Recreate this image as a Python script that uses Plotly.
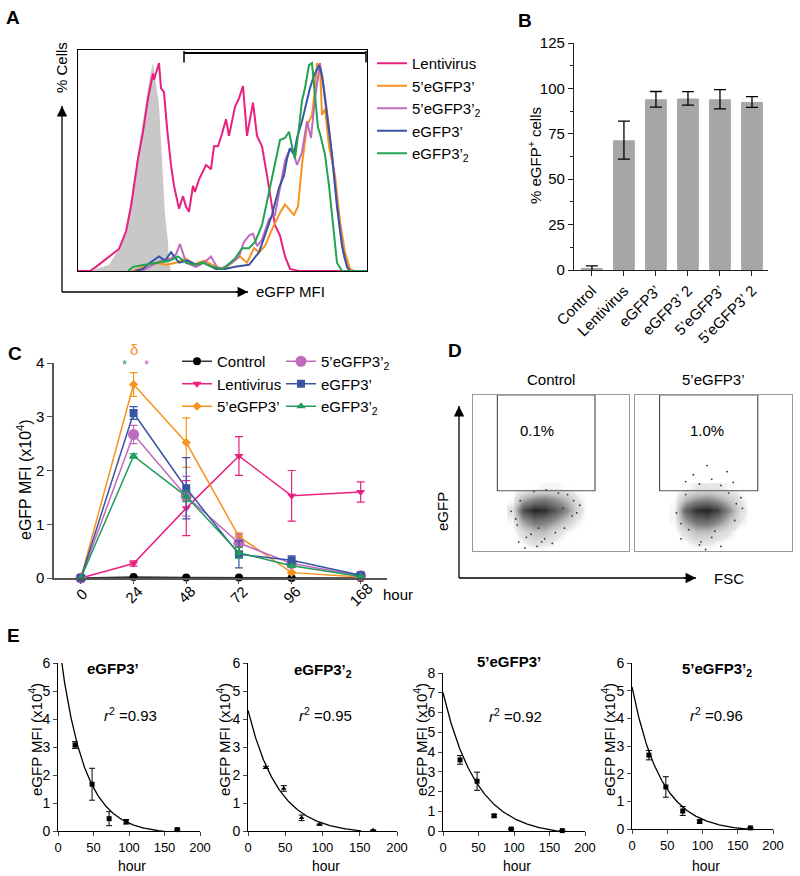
import numpy as np
import plotly.graph_objects as go

W, H = 800, 876
FONT = "Arial, 'Liberation Sans', Helvetica, sans-serif"

PINK, ORANGE, PURPLE, BLUE, GREEN = "#e8207f", "#f7931e", "#bf6bbd", "#3a54a4", "#21a34f"
C_GREEN = "#1f9b5a"
GREY_FILL, BAR_GREY = "#c8c8c8", "#a6a6a6"

# ---------------- Panel A: histograms (% of max vs relative log channel) ----------------
ctrl_hist_x = [0, 14, 18, 31, 41, 48, 53, 58, 63, 68, 72, 75, 78, 81, 83, 85, 87, 90, 91, 93, 289]
ctrl_hist_y = [0, 0, 1, 3, 10.6, 20, 35, 51, 67, 83, 94, 100, 91, 80, 62, 43, 27, 14, 4, 0, 0]
lenti_hist_x = [0, 12, 18, 31, 41, 48, 53, 60, 65, 70, 75, 76, 81, 83, 86, 89, 93, 96, 101, 105,
                108, 111, 115, 117, 121, 128, 133, 136, 140, 144, 148, 151, 154, 157, 161, 165, 169,
                175, 179, 184, 189, 194, 197, 202, 207, 212, 221, 289]
lenti_hist_y = [0, 0, 2, 7, 10.6, 19, 31, 54, 67, 83, 95, 92, 100, 88, 86, 69, 51, 41, 30, 36,
                31, 28.5, 41, 38, 44, 51, 49, 60, 60, 66, 73, 65, 72, 79, 83, 89, 65,
                81, 65, 60, 46, 31, 22, 17, 7, 1, 0, 0]
f5_hist_x = [54, 61, 70, 78, 88, 98, 108, 116, 126, 138, 146, 154, 162, 169, 176, 181, 187, 194, 202,
             207, 211, 216, 220, 224, 229, 234, 237, 239, 242, 244, 247, 251, 257, 262, 267, 272, 276, 289]
f5_hist_y = [0, 1, 3, 4, 3, 4, 6, 3, 5, 2, 1, 4, 7, 4, 11, 9, 12, 20, 28,
             32, 30, 27, 31, 51, 70, 75, 88, 100, 98, 75, 78, 60, 46, 24, 9, 1, 0, 0]
f52_hist_x = [62, 68, 75, 83, 93, 98, 102, 106, 108, 118, 126, 133, 140, 147, 154, 161, 166, 171, 175, 179,
              184, 191, 197, 202, 207, 212, 216, 219, 224, 229, 233, 237, 242, 246, 251, 256, 261, 266, 271, 289]
f52_hist_y = [0, 1, 3, 5, 6, 8, 13, 7, 4, 2, 4, 7, 1, 2, 4, 7, 14, 17, 18, 12,
              15, 25, 27, 40, 53, 59, 56, 51, 57, 72, 64, 83, 100, 88, 69, 46, 24, 7, 0, 0]
e3_hist_x = [57, 65, 72, 81, 87, 93, 101, 110, 118, 125, 138, 147, 157, 171, 181, 187, 194, 201, 206, 209,
             212, 216, 219, 224, 229, 232, 236, 241, 244, 249, 254, 259, 264, 269, 272, 289]
e3_hist_y = [0, 1, 4, 7, 5, 9, 4, 5, 3, 4, 1, 1, 2, 3, 9, 17, 27, 40, 46, 54,
             59, 56, 64, 72, 83, 88, 94, 99, 94, 75, 56, 31, 12, 2, 0, 0]
e32_hist_x = [50, 55, 67, 82, 92, 100, 108, 117, 125, 134, 145, 157, 164, 171, 177, 184, 191, 197, 202,
              207, 211, 214, 217, 221, 224, 227, 231, 234, 237, 240, 242, 245, 247, 251, 256, 259, 264, 289]
e32_hist_y = [0, 2, 3, 4, 5, 7, 4, 3, 4, 2, 1, 6, 11, 11, 14, 22, 38, 53, 63,
              64, 67, 60, 54, 69, 82, 88, 99, 100, 85, 69, 66, 59, 56, 41, 17, 4, 0, 0]
gate_range = [106, 288]

# ---------------- Panel B ----------------
b_cats = ["Control", "Lentivirus", "eGFP3’", "eGFP3’ 2", "5’eGFP3’", "5’eGFP3’ 2"]
b_vals = [1, 71.5, 94, 94.5, 94, 92.5]
b_err = [1.3, 10.5, 4.3, 3.7, 5.3, 3]

# ---------------- Panel C ----------------
hours = [0, 24, 48, 72, 96, 168]
hour_labels = ["0", "24", "48", "72", "96", "168"]
ctrl_mfi = [0, 0.02, 0.01, 0.01, 0.0, 0.0]
ctrl_err = [0, 0, 0, 0, 0, 0]
lenti_mfi = [0, 0.27, 1.3, 2.27, 1.53, 1.6]
lenti_err = [0, 0.05, 0.51, 0.36, 0.47, 0.19]
f5_mfi = [0, 3.6, 2.52, 0.77, 0.1, 0.02]
f5_err = [0, 0.22, 0.46, 0.07, 0.02, 0]
f52_mfi = [0, 2.67, 1.52, 0.65, 0.27, 0.04]
f52_err = [0, 0.17, 0.37, 0.16, 0.05, 0]
e3_mfi = [0, 3.07, 1.67, 0.44, 0.33, 0.05]
e3_err = [0, 0.12, 0.57, 0.25, 0.08, 0.02]
e32_mfi = [0, 2.27, 1.52, 0.47, 0.23, 0.03]
e32_err = [0, 0.04, 0.1, 0.1, 0.02, 0]

# ---------------- Panel D (density of events, FSC vs eGFP, 0-1023 scale) ----------------
dens_x = [260, 330, 400, 470, 540, 610, 680, 750]
dens_y = [0, 60, 130, 200, 270, 340, 410]
ctrl_density = [
    [0, 0, 0, 0, 0, 0, 0, 0],
    [0, 0.05, 0.12, 0.1, 0.05, 0, 0, 0],
    [0, 0.15, 0.3, 0.3, 0.15, 0.05, 0, 0],
    [0.05, 0.45, 0.65, 0.6, 0.45, 0.25, 0.08, 0],
    [0.1, 0.8, 1.0, 0.95, 0.75, 0.5, 0.2, 0],
    [0.02, 0.35, 0.5, 0.55, 0.45, 0.3, 0.1, 0],
    [0, 0, 0.02, 0.05, 0.05, 0.02, 0, 0],
]
f5_density = [
    [0, 0, 0, 0, 0, 0, 0, 0],
    [0, 0.03, 0.1, 0.1, 0.05, 0.02, 0, 0],
    [0, 0.15, 0.3, 0.3, 0.2, 0.1, 0, 0],
    [0.05, 0.45, 0.65, 0.7, 0.55, 0.3, 0.1, 0],
    [0.05, 0.7, 0.95, 1.0, 0.85, 0.5, 0.15, 0],
    [0.02, 0.3, 0.45, 0.5, 0.4, 0.25, 0.08, 0],
    [0, 0.02, 0.08, 0.08, 0.08, 0.04, 0.02, 0],
]
ctrl_sparse_fsc = [300, 340, 420, 470, 380, 520, 600, 650, 700, 660, 290, 250, 560, 480, 430, 350,
                   620, 540, 310, 450, 680, 400, 280, 590]
ctrl_sparse_gfp = [60, 20, 30, 80, 110, 50, 150, 230, 300, 330, 170, 260, 380, 400, 150, 90,
                   370, 120, 330, 60, 250, 390, 210, 280]
f5_sparse_fsc = [420, 500, 560, 330, 640, 470, 380, 600, 300, 420, 500, 350, 650, 700, 690, 270, 560, 460,
                 610, 330, 520, 300, 660, 430]
f5_sparse_gfp = [440, 470, 430, 455, 450, 560, 500, 520, 80, 40, 90, 140, 200, 280, 350, 250, 30, 10,
                 380, 370, 130, 180, 310, 60]
gate_fsc = [160, 800]
gate_gfp = [395, 1023]
d_titles = ["Control", "5’eGFP3’"]
d_pct = ["0.1%", "1.0%"]

# ---------------- Panel E (fits) ----------------
e_names = ["eGFP3’", "eGFP3’<sub>2</sub>", "5’eGFP3’", "5’eGFP3’<sub>2</sub>"]
e_vals = [e3_mfi, e32_mfi, f5_mfi, f52_mfi]
e_errs = [e3_err, e32_err, f5_err, f52_err]
e_symbols = ["square", "triangle-up", "square", "square"]
fit_A = [7.1, 4.41, 7.25, 5.24]
fit_k = [0.0293, 0.0246, 0.021, 0.0246]
fit_C = [-0.1, -0.1, -0.25, -0.1]
fit_end = [150, 152, 170, 165]
r2 = [0.93, 0.95, 0.92, 0.96]
e_ymax = [6, 6, 8, 6]


def xd(a, b):
    return [a / W, b / W]


def yd(top, bottom):
    return [1 - bottom / H, 1 - top / H]


def px(x):
    return x / W


def py(y):
    return 1 - y / H


fig = go.Figure()
ann = []
shapes = []


def txt(text, x, y, size=15, xanchor="center", yanchor="middle", angle=0, color="black", xref="paper"):
    ann.append(dict(text=text, x=px(x) if xref == "paper" else x, y=py(y), xref=xref, yref="paper",
                    showarrow=False, xanchor=xanchor, yanchor=yanchor, textangle=angle,
                    font=dict(size=size, color=color, family=FONT)))


def arrow(x0, y0, x1, y1):
    shapes.append(dict(type="line", xref="paper", yref="paper", x0=px(x0), y0=py(y0), x1=px(x1), y1=py(y1),
                       line=dict(color="black", width=1.3)))
    dx, dy = x1 - x0, y1 - y0
    n = (dx * dx + dy * dy) ** 0.5
    ann.append(dict(text=" ", x=px(x1), y=py(y1), xref="paper", yref="paper", showarrow=True,
                    ax=-dx / n * 14, ay=-dy / n * 14, arrowhead=2, arrowsize=1.6, arrowwidth=1.3,
                    arrowcolor="black", font=dict(size=4)))


# ---------- Panel A ----------
fig.add_trace(go.Scatter(x=ctrl_hist_x, y=ctrl_hist_y, mode="lines", fill="tozeroy", fillcolor=GREY_FILL,
                         line=dict(width=0, color=GREY_FILL), showlegend=False, xaxis="x", yaxis="y",
                         hoverinfo="skip"))
hist_series = [(lenti_hist_x, lenti_hist_y, PINK, "Lentivirus"),
               (f5_hist_x, f5_hist_y, ORANGE, "5’eGFP3’"),
               (f52_hist_x, f52_hist_y, PURPLE, "5’eGFP3’<sub>2</sub>"),
               (e3_hist_x, e3_hist_y, BLUE, "eGFP3’"),
               (e32_hist_x, e32_hist_y, GREEN, "eGFP3’<sub>2</sub>")]
for hx, hy, col, name in hist_series:
    fig.add_trace(go.Scatter(x=hx, y=hy, mode="lines", line=dict(color=col, width=2), name=name,
                             xaxis="x", yaxis="y", legend="legend"))
# gate bar
gy = 104.8
shapes.append(dict(type="line", xref="x", yref="y", x0=gate_range[0], x1=gate_range[1], y0=gy, y1=gy,
                   line=dict(color="black", width=2)))
for gx in gate_range:
    shapes.append(dict(type="line", xref="x", yref="y", x0=gx, x1=gx, y0=gy + 1, y1=gy - 4.5,
                       line=dict(color="black", width=1.5)))
arrow(62, 292, 62, 106)
arrow(62, 292, 248, 292)
txt("% Cells", 62, 68, angle=-90)
txt("eGFP MFI", 254, 292, xanchor="left")

# ---------- Panel B ----------
fig.add_trace(go.Bar(x=b_cats, y=b_vals, marker=dict(color=BAR_GREY, line=dict(width=0)), width=0.68,
                     error_y=dict(type="data", array=b_err, color="black", thickness=1.3, width=6),
                     showlegend=False, xaxis="x2", yaxis="y2"))
txt("% eGFP<sup>+</sup> cells", 534, 156, angle=-90)

# ---------- Panel C ----------
def axis_pos(h):
    # broken time axis: 24 h per unit up to 96 h, compressed after
    return h / 24 if h <= 96 else 4 + (h - 96) / 72 * 1.31


cx = [axis_pos(h) for h in hours]
c_series = [
    ("Control", ctrl_mfi, ctrl_err, "black", "circle", 8, "legend2", "#333333"),
    ("Lentivirus", lenti_mfi, lenti_err, PINK, "triangle-down", 8, "legend2", PINK),
    ("5’eGFP3’", f5_mfi, f5_err, ORANGE, "diamond", 7, "legend2", ORANGE),
    ("5’eGFP3’<sub>2</sub>", f52_mfi, f52_err, PURPLE, "circle", 11, "legend3", PURPLE),
    ("eGFP3’", e3_mfi, e3_err, BLUE, "square", 8, "legend3", BLUE),
    ("eGFP3’<sub>2</sub>", e32_mfi, e32_err, C_GREEN, "triangle-up", 8, "legend3", C_GREEN),
]
for name, vals, errs, col, sym, size, leg, lcol in c_series:
    fig.add_trace(go.Scatter(x=cx, y=vals, mode="lines+markers", name=name, legend=leg,
                             line=dict(color=lcol, width=1.5),
                             marker=dict(color=col, symbol=sym, size=size),
                             error_y=dict(type="data", array=errs, color=col, thickness=1.2, width=4),
                             cliponaxis=False, xaxis="x3", yaxis="y3"))
for pos, lab in zip(cx, hour_labels):
    txt(lab, pos, 594, angle=-45, xref="x3")
txt("eGFP MFI (x10<sup>4</sup>)", 24, 480, size=16, angle=-90)
txt("hour", 398, 594)
txt("δ", 134, 349, size=15, color=ORANGE)
txt("*", 124, 364, size=13, color=C_GREEN)
txt("*", 146, 364, size=13, color=PURPLE)

# ---------- Panel D ----------
dscale = [[0, "rgba(255,255,255,0)"], [0.08, "rgba(150,150,150,0.25)"], [0.5, "rgba(70,70,70,0.65)"],
          [1, "rgba(15,15,15,0.92)"]]
for i, (dens, sfsc, sgfp) in enumerate([(ctrl_density, ctrl_sparse_fsc, ctrl_sparse_gfp),
                                         (f5_density, f5_sparse_fsc, f5_sparse_gfp)]):
    xa, ya = ("x4", "y4") if i == 0 else ("x5", "y5")
    fig.add_trace(go.Heatmap(x=dens_x, y=dens_y, z=dens, zsmooth="best", colorscale=dscale, zmin=0, zmax=1,
                             showscale=False, hoverinfo="skip", xaxis=xa, yaxis=ya))
    fig.add_trace(go.Scatter(x=sfsc, y=sgfp, mode="markers", marker=dict(color="#333", size=1.8),
                             showlegend=False, xaxis=xa, yaxis=ya, hoverinfo="skip"))
    shapes.append(dict(type="rect", xref=xa, yref=ya, x0=gate_fsc[0], x1=gate_fsc[1], y0=gate_gfp[0],
                       y1=gate_gfp[1], line=dict(color="#555", width=1.2)))
d_centers = [551, 713]
for i in range(2):
    txt(d_titles[i], d_centers[i], 379)
    txt(d_pct[i], [537, 707][i], 430)
arrow(459, 578, 459, 406)
arrow(459, 578, 696, 578)
txt("eGFP", 442, 512, angle=-90)
txt("FSC", 712, 578, xanchor="left")

# ---------- Panel E ----------
e_dom_x = [(58, 200), (248, 397), (443, 585), (632, 773)]
e_dom_y = [(663, 831), (663, 831), (673, 831), (663, 829)]
e_title_pos = [(113, 668), (323, 670), (509, 661), (717, 669)]
e_r2_pos = [(130, 714), (325, 714), (515, 715), (716, 714)]
e_ytitle_x = [35, 223, 420, 608]
for i in range(4):
    xa, ya = "x%d" % (6 + i), "y%d" % (6 + i)
    tt = np.linspace(0, fit_end[i], 200)
    yy = fit_A[i] * np.exp(-fit_k[i] * tt) + fit_C[i]
    fig.add_trace(go.Scatter(x=tt, y=yy, mode="lines", line=dict(color="black", width=1.3),
                             showlegend=False, xaxis=xa, yaxis=ya, hoverinfo="skip"))
    fig.add_trace(go.Scatter(x=hours[1:], y=e_vals[i][1:], mode="markers",
                             marker=dict(color="black", symbol=e_symbols[i], size=5),
                             error_y=dict(type="data", array=e_errs[i][1:], color="black", thickness=1, width=3),
                             cliponaxis=False, showlegend=False, xaxis=xa, yaxis=ya))
    txt("<b>%s</b>" % e_names[i], *e_title_pos[i], size=15)
    txt("<i>r</i><sup>2</sup> =%.2f" % r2[i], *e_r2_pos[i], size=15)
    txt("eGFP MFI (x10<sup>4</sup>)", e_ytitle_x[i], 740, size=15, angle=-90)
    txt("hour", (e_dom_x[i][0] + e_dom_x[i][1]) / 2 + 3, 866, size=14)

# panel letters
for L, x, y in [("A", 13, 17), ("B", 525, 21), ("C", 15, 353), ("D", 455, 350), ("E", 13, 635)]:
    txt("<b>%s</b>" % L, x, y, size=19)

axis_common = dict(showgrid=False, zeroline=False, automargin=False)
tickfont = dict(size=15, color="black", family=FONT)

layout = dict(
    template="none",
    width=W, height=H, margin=dict(l=0, r=0, t=0, b=0, pad=0, autoexpand=False),
    paper_bgcolor="white", plot_bgcolor="rgba(0,0,0,0)",
    font=dict(family=FONT, color="black", size=15),
    showlegend=True,
    # A
    xaxis=dict(domain=xd(78, 367), range=[0, 289], showline=True, mirror=True, linecolor="black", linewidth=1,
               showticklabels=False, ticks="", **axis_common),
    yaxis=dict(domain=yd(50, 271), range=[0, 106.3], showline=True, mirror=True, linecolor="black", linewidth=1,
               showticklabels=False, ticks="", **axis_common),
    # B
    xaxis2=dict(domain=xd(574, 768), range=[-0.56, 5.5], anchor="y2", showline=True, linecolor="#222",
                linewidth=1.3, ticks="outside", ticklen=5, tickcolor="#222", tickangle=-45, tickfont=tickfont,
                type="category", **axis_common),
    yaxis2=dict(domain=yd(43, 270), range=[0, 125], anchor="x2", showline=True, linecolor="#222", linewidth=1.3,
                ticks="outside", ticklen=5, tickcolor="#222", tickvals=[0, 25, 50, 75, 100, 125], tickfont=tickfont,
                minor=dict(ticks="outside", ticklen=3, tickcolor="#222", dtick=12.5), **axis_common),
    # C
    xaxis3=dict(domain=xd(54, 387), range=[-0.51, 5.81], anchor="y3", showline=True, linecolor="#555",
                linewidth=2, ticks="outside", ticklen=4, tickcolor="#555", tickvals=cx,
                showticklabels=False, **axis_common),
    yaxis3=dict(domain=yd(363, 578), range=[0, 4], anchor="x3", showline=True, linecolor="#555", linewidth=1.5,
                ticks="outside", ticklen=5, tickcolor="#555", tickvals=[0, 1, 2, 3, 4], tickfont=tickfont,
                **axis_common),
    # D
    xaxis4=dict(domain=xd(473, 629), range=[0, 1023], anchor="y4", showline=True, mirror=True, linecolor="#999",
                linewidth=1.3, showticklabels=False, ticks="", **axis_common),
    yaxis4=dict(domain=yd(395, 551), range=[0, 1023], anchor="x4", showline=True, mirror=True, linecolor="#999",
                linewidth=1.3, showticklabels=False, ticks="", **axis_common),
    xaxis5=dict(domain=xd(635, 792), range=[0, 1023], anchor="y5", showline=True, mirror=True, linecolor="#999",
                linewidth=1.3, showticklabels=False, ticks="", **axis_common),
    yaxis5=dict(domain=yd(395, 551), range=[0, 1023], anchor="x5", showline=True, mirror=True, linecolor="#999",
                linewidth=1.3, showticklabels=False, ticks="", **axis_common),
    legend=dict(x=px(372), y=py(47), xanchor="left", yanchor="top", font=dict(size=15, family=FONT),
                itemwidth=30, bgcolor="rgba(0,0,0,0)", borderwidth=0, tracegroupgap=0),
    legend2=dict(x=px(177), y=py(345), xanchor="left", yanchor="top", font=dict(size=15, family=FONT),
                 itemwidth=30, bgcolor="rgba(0,0,0,0)", borderwidth=0),
    legend3=dict(x=px(281), y=py(345), xanchor="left", yanchor="top", font=dict(size=15, family=FONT),
                 itemwidth=30, bgcolor="rgba(0,0,0,0)", borderwidth=0),
    annotations=ann, shapes=shapes,
)
for i in range(4):
    layout["xaxis%d" % (6 + i)] = dict(domain=xd(*e_dom_x[i]), range=[0, 200], anchor="y%d" % (6 + i),
                                       showline=True, linecolor="black", linewidth=1, ticks="outside", ticklen=4,
                                       tickvals=[0, 50, 100, 150, 200], tickfont=dict(size=13, family=FONT),
                                       **axis_common)
    layout["yaxis%d" % (6 + i)] = dict(domain=yd(*e_dom_y[i]), range=[0, e_ymax[i]], anchor="x%d" % (6 + i),
                                       showline=True, linecolor="black", linewidth=1, ticks="outside", ticklen=4,
                                       dtick=1, tickfont=dict(size=14, family=FONT), **axis_common)

fig.update_layout(**layout)
fig.write_html("out.html", config={"displayModeBar": False},
               post_script="document.body.style.margin='0px';")
